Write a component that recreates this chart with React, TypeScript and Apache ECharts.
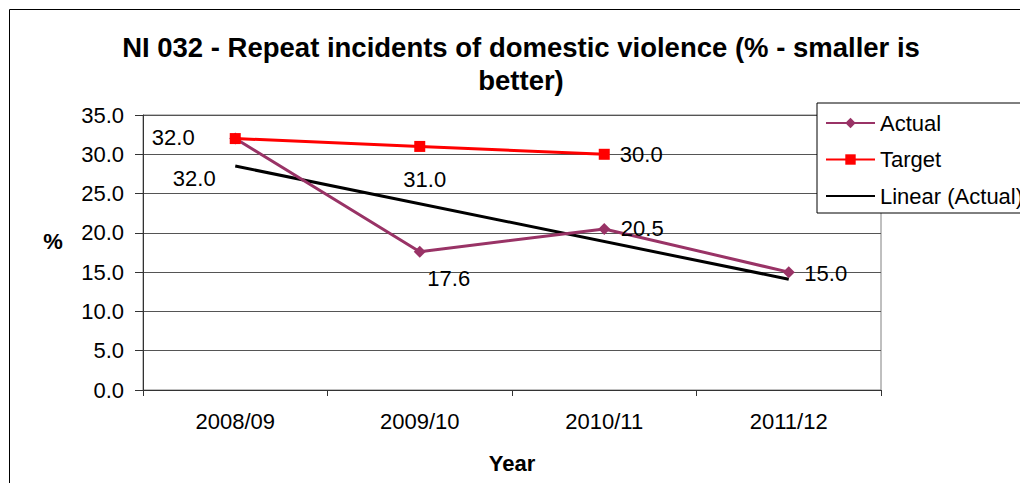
import React, { useEffect, useRef } from "react";
import * as echarts from "echarts";

const categories = ["2008/09", "2009/10", "2010/11", "2011/12"];
const actual = [32.0, 17.6, 20.5, 15.0];
const target = [32.0, 31.0, 30.0];
const trendStart = 28.5;
const trendEnd = 14.1;
const yTicks = { min: 0, max: 35, interval: 5 };

const titleText = "NI 032 - Repeat incidents of domestic violence (% - smaller is\nbetter)";

const FONT = "'Liberation Sans', Arial, sans-serif";

const actualOffsets: [number, number][] = [[-41, 40], [29, 27], [38, 0], [37, 1]];
const targetOffsets: [number, number][] = [[-62, -1], [5, 33], [37, 0]];

export default function App() {
  const ref = useRef<HTMLDivElement>(null);
  useEffect(() => {
    if (!ref.current) return;
    const chart = echarts.init(ref.current, null, { renderer: "svg" });
    const lbl = (v: number, off: [number, number]) => ({
      value: v,
      label: {
        show: true,
        position: "inside",
        offset: off,
        formatter: (p: any) => Number(p.value).toFixed(1),
        fontSize: 22,
        fontFamily: FONT,
        color: "#000",
      },
    });
    const trendData = categories.map((_, i) =>
      i === 0 ? trendStart : i === categories.length - 1 ? trendEnd : null
    );
    chart.setOption({
      animation: false,
      backgroundColor: "#fff",
      textStyle: { fontFamily: FONT },
      graphic: [
        {
          type: "rect",
          shape: { x: 9.5, y: 9.5, width: 1030, height: 500 },
          style: { fill: "none", stroke: "#000", lineWidth: 1 },
          silent: true,
          z: -10,
        },
        {
          type: "text",
          x: 521,
          y: 31,
          style: {
            text: titleText,
            fontFamily: FONT,
            fontSize: 27.5,
            fontWeight: "bold",
            lineHeight: 33,
            textAlign: "center",
            fill: "#000",
          },
        },
        {
          type: "text",
          x: 53,
          y: 241,
          style: {
            text: "%",
            fontFamily: FONT,
            fontSize: 22,
            fontWeight: "bold",
            textAlign: "center",
            textVerticalAlign: "middle",
            fill: "#000",
          },
        },
      ],
      grid: {
        left: 143,
        top: 115,
        right: 139,
        bottom: 93,
        show: true,
        borderColor: "#808080",
        borderWidth: 1,
        backgroundColor: "transparent",
      },
      legend: {
        orient: "vertical",
        left: 817,
        top: 103,
        padding: [9, 10, 6, 8],
        itemGap: 14.5,
        itemWidth: 49,
        itemHeight: 13,
        borderColor: "#000",
        borderWidth: 1,
        backgroundColor: "#fff",
        textStyle: { fontSize: 22, fontFamily: FONT, color: "#000", lineHeight: 22 },
        data: [
          { name: "Actual" },
          { name: "Target" },
          { name: "Linear (Actual)", itemStyle: { opacity: 0 } },
        ],
        z: 10,
      },
      xAxis: {
        type: "category",
        data: categories,
        boundaryGap: true,
        name: "Year",
        nameLocation: "middle",
        nameGap: 62,
        nameTextStyle: { fontSize: 22, fontWeight: "bold", fontFamily: FONT, color: "#000" },
        axisLine: { show: true, lineStyle: { color: "#333", width: 1 } },
        axisTick: { show: true, length: 6, lineStyle: { color: "#333" } },
        axisLabel: { fontSize: 22, fontFamily: FONT, color: "#000", margin: 20 },
      },
      yAxis: {
        type: "value",
        min: yTicks.min,
        max: yTicks.max,
        interval: yTicks.interval,
        axisLine: { show: true, lineStyle: { color: "#333", width: 1 } },
        axisTick: { show: true, length: 8, lineStyle: { color: "#333" } },
        axisLabel: {
          fontSize: 22,
          fontFamily: FONT,
          color: "#000",
          margin: 19,
          formatter: (v: number) => v.toFixed(1),
        },
        splitLine: { show: true, lineStyle: { color: "#555", width: 1 } },
      },
      series: [
        {
          name: "Actual",
          type: "line",
          data: actual.map((v, i) => lbl(v, actualOffsets[i])),
          symbol: "diamond",
          symbolSize: 12,
          lineStyle: { color: "#993366", width: 3 },
          itemStyle: { color: "#993366" },
          z: 3,
        },
        {
          name: "Target",
          type: "line",
          data: target.map((v, i) => lbl(v, targetOffsets[i])),
          symbol: "rect",
          symbolSize: 11,
          lineStyle: { color: "#ff0000", width: 3 },
          itemStyle: { color: "#ff0000" },
          z: 4,
        },
        {
          name: "Linear (Actual)",
          type: "line",
          data: trendData,
          connectNulls: true,
          symbol: "none",
          lineStyle: { color: "#000", width: 3 },
          itemStyle: { color: "#000" },
          z: 2,
        },
      ],
    });
    return () => chart.dispose();
  }, []);
  return (
    <div
      ref={ref}
      style={{ position: "absolute", left: 0, top: 0, width: 1020, height: 483 }}
    />
  );
}
